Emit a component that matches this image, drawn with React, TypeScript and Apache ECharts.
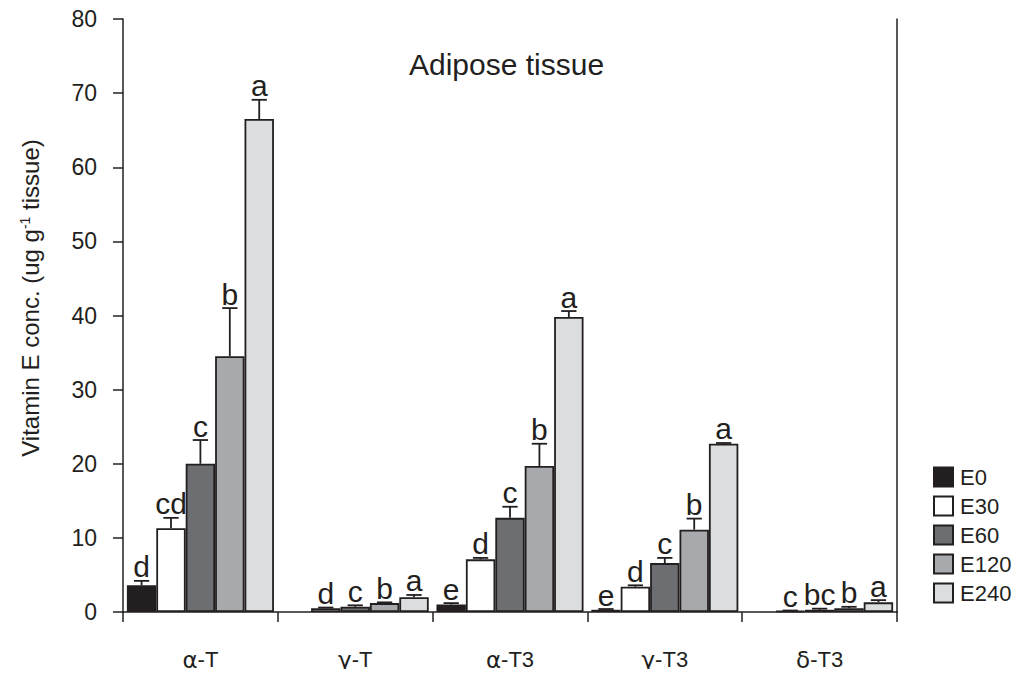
import React, { useEffect, useRef } from "react";
import * as echarts from "echarts";

const categories = ["α-T", "γ-T", "α-T3", "γ-T3", "δ-T3"];
const seriesNames = ["E0", "E30", "E60", "E120", "E240"];
const colors = ["#231f20", "#ffffff", "#6d6e71", "#a7a9ac", "#dcdddf"];

// mean values per series (one per category)
const E0 = [3.6, null, 1.0, 0.3, null];
const E30 = [11.3, 0.5, 7.1, 3.4, 0.15];
const E60 = [20.0, 0.7, 12.7, 6.6, 0.3];
const E120 = [34.5, 1.2, 19.7, 11.1, 0.5];
const E240 = [66.5, 2.0, 39.8, 22.7, 1.3];

// upper end of error bars
const E0err = [4.2, null, 1.2, 0.4, null];
const E30err = [12.7, 0.6, 7.3, 3.6, 0.2];
const E60err = [23.2, 0.9, 14.2, 7.3, 0.45];
const E120err = [41.0, 1.3, 22.7, 12.6, 0.7];
const E240err = [69.1, 2.3, 40.6, 22.8, 1.6];

// significance letters
const E0lab = ["d", "", "e", "e", ""];
const E30lab = ["cd", "d", "d", "d", "c"];
const E60lab = ["c", "c", "c", "c", "bc"];
const E120lab = ["b", "b", "b", "b", "b"];
const E240lab = ["a", "a", "a", "a", "a"];

const yTicks = { min: 0, max: 80, interval: 10 };

const values = [E0, E30, E60, E120, E240];
const errs = [E0err, E30err, E60err, E120err, E240err];
const labs = [E0lab, E30lab, E60lab, E120lab, E240lab];

const FONT = "'Liberation Sans', Arial, sans-serif";
const GREEK = "'DejaVu Sans', 'Noto Sans', sans-serif";
const INK = "#231f20";

export default function App() {
  const ref = useRef<HTMLDivElement>(null);
  useEffect(() => {
    if (!ref.current) return;
    const chart = echarts.init(ref.current, undefined, { renderer: "svg" });
    const n = seriesNames.length;
    const gapFrac = 0.05;

    const barSeries = seriesNames.map((name, i) => ({
      name,
      type: "bar",
      data: values[i].map((v) => (v === null ? "-" : v)),
      barGap: "0%",
      barCategoryGap: "5%",
      itemStyle: { color: colors[i], borderColor: INK, borderWidth: 1.8 },
      emphasis: { disabled: true },
    }));

    const errSeries = seriesNames.map((name, i) => ({
      name: name + "_err",
      type: "custom",
      silent: true,
      z: 5,
      data: categories.map((_, k) => [k, values[i][k], errs[i][k], labs[i][k]]),
      renderItem: (params: any, api: any) => {
        const k = api.value(0);
        const v = values[i][k];
        const e = errs[i][k];
        const lab = labs[i][k];
        if (v === null) return null;
        const catW = api.size([1, 0])[0];
        const bw = (catW * (1 - gapFrac)) / n;
        const c0 = api.coord([k, v]);
        const c1 = api.coord([k, e]);
        const x = c0[0] + (i - (n - 1) / 2) * bw;
        const capHalf = bw * 0.26;
        const children: any[] = [];
        if (e !== null && e > v) {
          children.push({
            type: "line",
            shape: { x1: x, y1: c0[1], x2: x, y2: c1[1] },
            style: { stroke: INK, lineWidth: 1.8 },
          });
        }
        children.push({
          type: "line",
          shape: { x1: x - capHalf, y1: c1[1], x2: x + capHalf, y2: c1[1] },
          style: { stroke: INK, lineWidth: 1.8 },
        });
        if (lab) {
          children.push({
            type: "text",
            x: x,
            y: c1[1] + 1,
            style: {
              text: lab,
              fontSize: 30,
              fontFamily: FONT,
              fill: INK,
              align: "center",
              verticalAlign: "bottom",
            },
          });
        }
        return { type: "group", children };
      },
    }));

    chart.setOption({
      animation: false,
      backgroundColor: "#ffffff",
      textStyle: { fontFamily: FONT },
      grid: { left: 123, right: 125, top: 19, bottom: 65, containLabel: false },
      legend: {
        data: seriesNames,
        orient: "vertical",
        left: 928,
        top: 461,
        itemWidth: 19,
        itemHeight: 19,
        itemGap: 7,
        icon: "rect",
        textStyle: { fontSize: 22, color: INK, fontFamily: FONT, padding: [0, 0, 0, 2] },
        selectedMode: false,
      },
      graphic: [
        {
          type: "text",
          left: 409,
          top: 49,
          style: { text: "Adipose tissue", fontSize: 30, fontFamily: FONT, fill: INK },
        },
        {
          type: "text",
          x: 30,
          y: 298,
          rotation: Math.PI / 2,
          style: {
            text: "{n|Vitamin E conc. (ug g}{s|-1}{n| tissue)}",
            align: "center",
            verticalAlign: "middle",
            rich: {
              n: { fontSize: 24, fill: INK, fontFamily: FONT },
              s: { fontSize: 14, fill: INK, fontFamily: FONT, verticalAlign: "top", padding: [0, 0, 9, 0] },
            },
          },
        },
      ],
      xAxis: {
        type: "category",
        data: categories,
        boundaryGap: true,
        axisLine: { lineStyle: { color: INK, width: 1.5 } },
        axisTick: { show: true, length: 10, lineStyle: { color: INK, width: 1.5 } },
        axisLabel: {
          margin: 36,
          formatter: (v: string) => `{g|${v.slice(0, 1)}}{s|${v.slice(1)}}`,
          rich: {
            g: { fontSize: 23, color: INK, fontFamily: GREEK },
            s: { fontSize: 22, color: INK, fontFamily: FONT },
          },
        },
        splitLine: { show: false },
      },
      yAxis: [
        {
          type: "value",
          min: yTicks.min,
          max: yTicks.max,
          interval: yTicks.interval,
          axisLine: { show: true, lineStyle: { color: INK, width: 1.5 } },
          axisTick: { show: true, length: 10, lineStyle: { color: INK, width: 1.5 } },
          axisLabel: { fontSize: 23, color: INK, margin: 26 },
          splitLine: { show: false },
        },
        {
          type: "value",
          position: "right",
          min: yTicks.min,
          max: yTicks.max,
          interval: yTicks.interval,
          axisLine: { show: true, lineStyle: { color: INK, width: 1.5 } },
          axisTick: { show: false },
          axisLabel: { show: false },
          splitLine: { show: false },
        },
      ],
      series: [...barSeries, ...errSeries],
    });
    return () => chart.dispose();
  }, []);
  return <div ref={ref} style={{ width: 1022, height: 677, margin: -8 }} />;
}
